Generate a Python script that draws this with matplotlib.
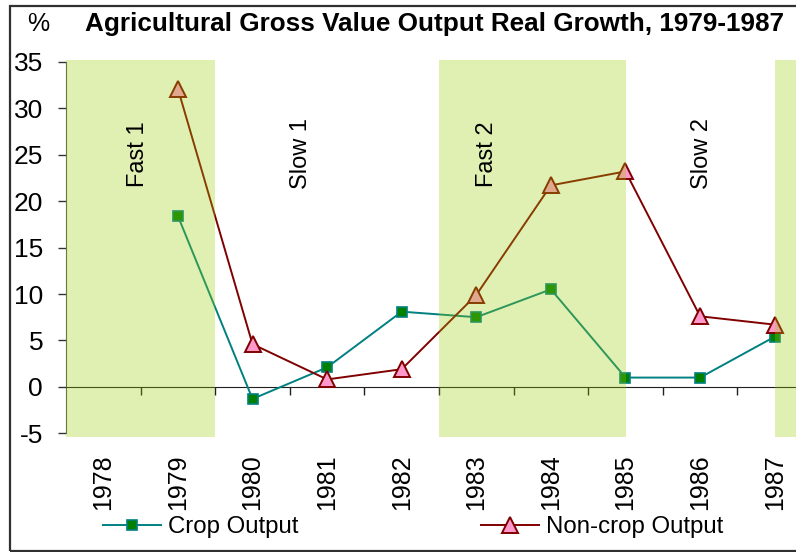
import matplotlib
matplotlib.use("Agg")
import matplotlib.pyplot as plt
import matplotlib.transforms as mtransforms
from matplotlib.patches import Rectangle
import numpy as np

plt.rcParams["font.family"] = ["Liberation Sans", "DejaVu Sans"]
plt.rcParams["axes.unicode_minus"] = False

# data
years = ["1978", "1979", "1980", "1981", "1982", "1983", "1984", "1985", "1986", "1987"]
crop = [np.nan, 18.4, -1.3, 2.1, 8.1, 7.5, 10.5, 1.0, 1.0, 5.4]
noncrop = [np.nan, 32.1, 4.6, 0.8, 1.9, 9.9, 21.7, 23.2, 7.6, 6.7]
# shaded "fast" periods, in category positions
fast_spans = [(-0.5, 1.5), (4.5, 7.0), (9.0, 10.0)]
period_labels = ["Fast 1", "Slow 1", "Fast 2", "Slow 2"]
period_x = [0.47, 2.65, 5.15, 8.03]
period_y = 25.1

W, H = 796, 552
fig = plt.figure(figsize=(W / 100, H / 100), dpi=100)
# axes in pixel terms: left 66, right = figure edge, top 60, bottom 437
ax = fig.add_axes([66 / W, 1 - 437 / H, (W - 66) / W, (437 - 60) / H])

x = np.arange(len(years))
ax.plot(x, crop, color="#008080", lw=1.4, marker="s", ms=7,
        mfc="#008000", mec="#008080", mew=1.2, label="Crop Output", zorder=3)
ax.plot(x, noncrop, color="#800000", lw=1.4, marker="^", ms=12,
        mfc="#FF99CC", mec="#800000", mew=1.4, label="Non-crop Output", zorder=3)

for a, b in fast_spans:
    ax.axvspan(a, b, color="#99CC00", alpha=0.3, lw=0, zorder=4)

for lab, px in zip(period_labels, period_x):
    ax.text(px, period_y, lab, rotation=90, ha="center", va="center",
            fontsize=17, zorder=5)

ax.set_xlim(-0.5, (W - 103.3) / 74.6)
ax.set_ylim(-5.4, 35.2)

# axis styling
for s in ["top", "right"]:
    ax.spines[s].set_visible(False)
ax.spines["left"].set_bounds(-5, 35)
ax.spines["left"].set_color("#555555")
ax.spines["bottom"].set_position(("data", 0))
ax.spines["bottom"].set_color("#202020")
ax.set_yticks(np.arange(-5, 36, 5))
ax.tick_params(axis="y", direction="out", length=6, width=1, color="#333333",
               labelsize=19, pad=10.5)
ax.set_xticks(np.arange(0.5, 9, 1))
ax.set_xticklabels([])
ax.tick_params(axis="x", direction="out", length=6, width=1, color="#202020")

trans = mtransforms.blended_transform_factory(ax.transData, ax.transAxes)
for i, y in enumerate(years):
    ax.text(i, -17 / 377, y, rotation=90, ha="center", va="top",
            fontsize=18, transform=trans)

# legend along the bottom
fig.legend(loc="center left", bbox_to_anchor=(103 / W, 1 - 527 / H),
           ncol=2, frameon=False, fontsize=17.3, borderpad=0, borderaxespad=0,
           handlelength=2.4, handletextpad=0.3, columnspacing=7.6)

fig.text(435 / W, 1 - 24 / H, "Agricultural Gross Value Output Real Growth, 1979-1987",
         ha="center", va="center", fontsize=18.8, fontweight="bold")
fig.text(38 / W, 1 - 24 / H, "%", ha="center", va="center", fontsize=18)

# outer chart frame (right side falls outside the image)
fig.patches.append(Rectangle((10 / W, 1 - 551 / H), 820 / W, 545 / H,
                             transform=fig.transFigure, fill=False,
                             ec="#303030", lw=1.6))

fig.savefig("out.png", dpi=100)
